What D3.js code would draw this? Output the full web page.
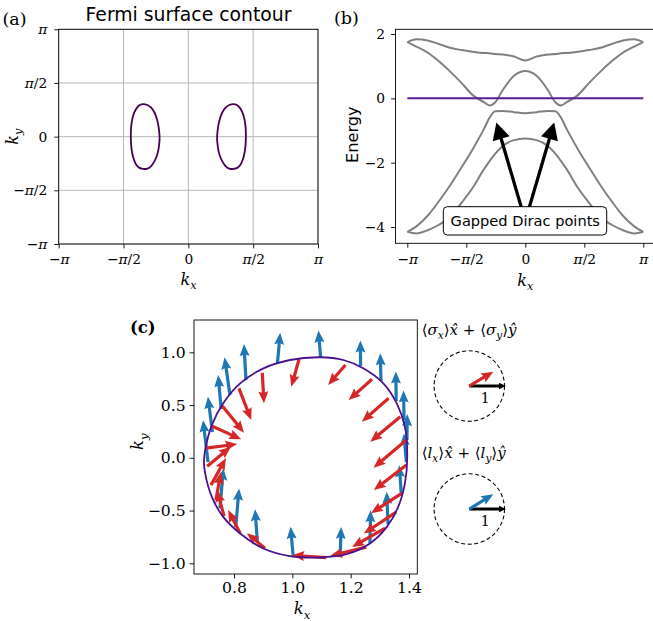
<!doctype html>
<html>
<head>
<script src="https://d3js.org/d3.v7.min.js"></script>
<style>
  body { margin: 0; padding: 0; background: #fff; }
</style>
</head>
<body>
<svg id="fig" width="653" height="621"></svg>
<script>
// ---- data ----
var piTicks = [-Math.PI, -Math.PI / 2, 0, Math.PI / 2, Math.PI];
var piTickLabels = ["−π", "−π/2", "0", "π/2", "π"];

// Fermi pocket (right one, kx > 0); panel (a) shows it and its mirror image
var contourKx = [1.095, 0.992, 0.901, 0.821, 0.763, 0.724, 0.701, 0.697, 0.701, 0.724, 0.763, 0.821, 0.901,
                 0.992, 1.095, 1.186, 1.266, 1.324, 1.363, 1.386, 1.394, 1.386, 1.358, 1.312, 1.243, 1.175];
var contourKy = [0.953, 0.927, 0.848, 0.706, 0.516, 0.310, 0.073, -0.040, -0.148, -0.370, -0.560, -0.717, -0.860,
                 -0.933, -0.945, -0.914, -0.812, -0.655, -0.465, -0.243, 0.009, 0.294, 0.516, 0.706, 0.848, 0.927];

// bands along ky = 0
var bandK = [-3.14, -2.9, -2.6, -2.3, -2.0, -1.7, -1.4, -1.1, -0.95, -0.8, -0.6, -0.3, 0,
             0.3, 0.6, 0.8, 0.95, 1.1, 1.4, 1.7, 2.0, 2.3, 2.6, 2.9, 3.14];
var band1 = [1.75, 1.84, 1.80, 1.69, 1.57, 1.50, 1.45, 1.41, 1.40, 1.38, 1.36, 1.30, 1.18,
             1.30, 1.36, 1.38, 1.40, 1.41, 1.45, 1.50, 1.57, 1.69, 1.80, 1.84, 1.75];
var band2 = [1.75, 1.61, 1.42, 1.15, 0.83, 0.48, 0.10, -0.12, -0.22, -0.12, 0.26, 0.70, 0.85,
             0.70, 0.26, -0.12, -0.22, -0.12, 0.10, 0.48, 0.83, 1.15, 1.42, 1.61, 1.75];
var band3 = [-4.15, -3.98, -3.65, -3.20, -2.70, -2.15, -1.58, -0.95, -0.60, -0.40, -0.39, -0.43, -0.46,
             -0.43, -0.39, -0.40, -0.60, -0.95, -1.58, -2.15, -2.70, -3.20, -3.65, -3.98, -4.15];
var band4 = [-4.15, -4.20, -4.10, -3.93, -3.68, -3.25, -2.78, -2.20, -1.95, -1.72, -1.48, -1.30, -1.25,
             -1.30, -1.48, -1.72, -1.95, -2.20, -2.78, -3.25, -3.68, -3.93, -4.10, -4.20, -4.15];
var bands = [band1, band2, band3, band4];
var fermiLevel = 0;
var energyTicks = [-4, -2, 0, 2];
var energyTickLabels = ["−4", "−2", "0", "2"];
var diracK = [-0.77, 0.77];
var diracE = [-0.75, -0.75];
var annotText = "Gapped Dirac points";
var annotK = 0, annotE = -3.81;

// panel (c)
var cxTicks = [0.8, 1.0, 1.2, 1.4];
var cxTickLabels = ["0.8", "1.0", "1.2", "1.4"];
var cyTicks = [-1.0, -0.5, 0.0, 0.5, 1.0];
var cyTickLabels = ["−1.0", "−0.5", "0.0", "0.5", "1.0"];

// orbital <l> arrows (blue): base point and vector
var orbKx = [0.711, 0.726, 0.756, 0.786, 0.841, 0.949, 1.097, 1.234, 1.304, 1.356, 1.383, 1.393, 1.391,
             1.374, 1.328, 1.266, 1.164, 1.003, 0.880, 0.806, 0.752];
var orbKy = [-0.041, 0.244, 0.462, 0.595, 0.737, 0.894, 0.955, 0.870, 0.728, 0.538, 0.358, 0.168, -0.041,
             -0.354, -0.629, -0.809, -0.923, -0.937, -0.797, -0.657, -0.480];
var orbU = [-0.136, -0.123, -0.082, -0.144, -0.054, 0.074, -0.060, -0.005, -0.019, -0.008, -0.014, 0.008, -0.068,
            -0.060, -0.035, 0.019, 0.027, -0.071, -0.063, 0.090, 0.090];
var orbV = [1.144, 0.962, 0.926, 1.027, 0.981, 0.839, 0.722, 0.695, 0.755, 0.804, 0.804, 0.708, 0.782,
            0.817, 0.880, 0.899, 0.771, 0.812, 0.891, 1.054, 1.090];

// spin <sigma> arrows (red)
var spinKx = [1.023, 0.897, 0.817, 0.760, 0.724, 0.704, 0.708, 0.721, 0.738, 0.766, 0.821, 0.906, 1.116,
              1.253, 1.318, 1.356, 1.376, 1.391, 1.391, 1.370, 1.330, 1.273, 1.182];
var spinKy = [0.934, 0.806, 0.658, 0.491, 0.301, 0.092, -0.079, -0.259, -0.401, -0.553, -0.714, -0.857, -0.947,
              -0.847, -0.667, -0.515, -0.335, -0.069, 0.168, 0.389, 0.564, 0.744, 0.880];
var spinU = [-0.210, 0.046, 0.335, 0.591, 0.801, 0.853, 0.646, 0.409, 0.136, -0.191, -0.327, -0.490, -0.926,
             -0.973, -0.899, -0.880, -0.845, -0.886, -0.894, -0.817, -0.728, -0.635, -0.471];
var spinV = [-0.747, -0.834, -0.864, -0.728, -0.362, 0.109, 0.526, 0.736, 0.763, 0.708, 0.627, 0.409, 0.068,
             -0.237, -0.510, -0.580, -0.545, -0.681, -0.755, -0.681, -0.638, -0.564, -0.545];

var keySpin = [0.654, 0.390];
var keyOrb = [0.654, 0.401];
var keyUnit = 1;

// ---- helpers ----
var SERIF = "'DejaVu Serif', serif";
var SANS = "'DejaVu Sans', sans-serif";
var svg = d3.select("#fig");
svg.append("rect").attr("width", 653).attr("height", 621).attr("fill", "#fff");

function piText(sel, label) {
  sel.text(null);
  label.split(/(π)/).forEach(function (p) {
    if (!p) return;
    sel.append("tspan").style("font-style", p === "π" ? "italic" : "normal").text(p);
  });
}

function kLabel(g, x, y, sub, size, rotate) {
  var t = g.append("text").style("font-family", SERIF).attr("font-size", size)
    .attr("text-anchor", "middle")
    .attr("transform", "translate(" + x + "," + y + ")" + (rotate ? " rotate(-90)" : ""));
  t.append("tspan").style("font-style", "italic").text("k");
  t.append("tspan").style("font-style", "italic").attr("font-size", size * 0.7)
    .attr("dy", size * 0.28).text(sub);
  return t;
}

function styleAxis(g, size) {
  g.select(".domain").remove();
  g.selectAll(".tick line").attr("stroke", "#000").attr("stroke-width", 0.9);
  g.selectAll(".tick text").style("font-family", SERIF).attr("font-size", size).attr("fill", "#000");
}

function arrowPath(x0, y0, dx, dy, w, hl, ha, hw) {
  var L = Math.hypot(dx, dy);
  if (L === 0) return "";
  var ux = dx / L, uy = dy / L, nx = -uy, ny = ux;
  if (L < hl) { var s = L / hl; hl *= s; ha *= s; hw *= s; }
  var pts = [[0, -w / 2], [L - ha, -w / 2], [L - hl, -hw], [L, 0], [L - hl, hw], [L - ha, w / 2], [0, w / 2]];
  return "M" + pts.map(function (p) {
    return (x0 + p[0] * ux + p[1] * nx).toFixed(2) + "," + (y0 + p[0] * uy + p[1] * ny).toFixed(2);
  }).join("L") + "Z";
}

// ---- panel (a) ----
var xA = d3.scaleLinear().domain([-Math.PI, Math.PI]).range([58.7, 318]);
var yA = d3.scaleLinear().domain([-Math.PI, Math.PI]).range([244, 29.3]);
var gA = svg.append("g");

gA.selectAll("line.gx").data(piTicks).enter().append("line")
  .attr("x1", function (d) { return xA(d); }).attr("x2", function (d) { return xA(d); })
  .attr("y1", yA(-Math.PI)).attr("y2", yA(Math.PI))
  .attr("stroke", "#b0b0b0").attr("stroke-width", 0.9);
gA.selectAll("line.gy").data(piTicks).enter().append("line")
  .attr("y1", function (d) { return yA(d); }).attr("y2", function (d) { return yA(d); })
  .attr("x1", xA(-Math.PI)).attr("x2", xA(Math.PI))
  .attr("stroke", "#b0b0b0").attr("stroke-width", 0.9);

var pocket = d3.line().curve(d3.curveCatmullRomClosed);
gA.append("path")
  .attr("d", pocket(contourKx.map(function (k, i) { return [xA(k), yA(contourKy[i])]; })))
  .attr("fill", "none").attr("stroke", "#440154").attr("stroke-width", 1.8);
gA.append("path")
  .attr("d", pocket(contourKx.map(function (k, i) { return [xA(-k), yA(contourKy[i])]; })))
  .attr("fill", "none").attr("stroke", "#440154").attr("stroke-width", 1.8);

gA.append("rect").attr("x", 58.7).attr("y", 29.3).attr("width", 318 - 58.7).attr("height", 244 - 29.3)
  .attr("fill", "none").attr("stroke", "#000").attr("stroke-width", 0.9);

var axA = gA.append("g").attr("transform", "translate(0,244)")
  .call(d3.axisBottom(xA).tickValues(piTicks).tickSize(4.4).tickPadding(6));
styleAxis(axA, 13.8);
axA.selectAll(".tick text").each(function (d, i) { piText(d3.select(this), piTickLabels[i]); });
var ayA = gA.append("g").attr("transform", "translate(58.7,0)")
  .call(d3.axisLeft(yA).tickValues(piTicks).tickSize(4.4).tickPadding(7));
styleAxis(ayA, 13.8);
ayA.selectAll(".tick text").each(function (d, i) { piText(d3.select(this), piTickLabels[i]); });

kLabel(gA, 188.5, 285, "x", 16, false);
kLabel(gA, 18, 136.7, "y", 16, true);
gA.append("text").style("font-family", SANS).attr("font-size", 18.8).attr("text-anchor", "middle")
  .attr("x", 188.5).attr("y", 21).text("Fermi surface contour");
gA.append("text").style("font-family", SERIF).attr("font-size", 17.5).attr("x", 2.5).attr("y", 25).text("(a)");

// ---- panel (b) ----
var xB = d3.scaleLinear().domain([-Math.PI, Math.PI]).range([407.3, 643.3]);
var yB = d3.scaleLinear().domain([-4, 2]).range([227, 34]);
var gB = svg.append("g");
var bandLine = d3.line().curve(d3.curveMonotoneX)
  .x(function (d) { return xB(d[0]); }).y(function (d) { return yB(d[1]); });

bands.forEach(function (b) {
  gB.append("path").attr("d", bandLine(bandK.map(function (k, i) { return [k, b[i]]; })))
    .attr("fill", "none").attr("stroke", "#808080").attr("stroke-width", 2);
});
gB.append("line").attr("x1", xB(-Math.PI)).attr("x2", xB(Math.PI))
  .attr("y1", yB(fermiLevel)).attr("y2", yB(fermiLevel))
  .attr("stroke", "#5a1e9a").attr("stroke-width", 2);

gB.append("rect").attr("x", 395.5).attr("y", 29.3).attr("width", 264).attr("height", 243.3 - 29.3)
  .attr("fill", "none").attr("stroke", "#000").attr("stroke-width", 0.9);

var axB = gB.append("g").attr("transform", "translate(0,243.3)")
  .call(d3.axisBottom(xB).tickValues(piTicks).tickSize(4.4).tickPadding(7));
styleAxis(axB, 13.8);
axB.selectAll(".tick text").each(function (d, i) { piText(d3.select(this), piTickLabels[i]); });
var ayB = gB.append("g").attr("transform", "translate(395.5,0)")
  .call(d3.axisLeft(yB).tickValues(energyTicks).tickSize(4.4).tickPadding(6)
    .tickFormat(function (d, i) { return energyTickLabels[i]; }));
styleAxis(ayB, 13.8);

kLabel(gB, 525.3, 286, "x", 16, false);
gB.append("text").style("font-family", SANS).attr("font-size", 16.2).attr("text-anchor", "middle")
  .attr("transform", "translate(358,134.7) rotate(-90)").text("Energy");
gB.append("text").style("font-family", SERIF).attr("font-size", 17.5).attr("x", 334).attr("y", 23.5).text("(b)");

// annotation arrows then box
var ax0 = xB(annotK), ay0 = yB(annotE);
diracK.forEach(function (k, i) {
  var tx = xB(k), ty = yB(diracE[i]);
  gB.append("path").attr("d", arrowPath(ax0, ay0, tx - ax0, ty - ay0, 3.3, 17, 17, 8.8))
    .attr("fill", "#000");
});
gB.append("rect").attr("x", 443.3).attr("y", 206.7).attr("width", 163.4).attr("height", 28.3)
  .attr("rx", 4).attr("fill", "#fff").attr("stroke", "#000").attr("stroke-width", 1);
gB.append("text").style("font-family", SANS).attr("font-size", 14.6).attr("text-anchor", "middle")
  .attr("x", ax0).attr("y", 226).text(annotText);

// ---- panel (c) ----
var xC = d3.scaleLinear().domain([0.8, 1.4]).range([234, 409]);
var yC = d3.scaleLinear().domain([-1, 1]).range([563.3, 352.3]);
var unitPx = 36.7;
var gC = svg.append("g");

orbKx.forEach(function (k, i) {
  gC.append("path").attr("d", arrowPath(xC(k), yC(orbKy[i]), orbU[i] * unitPx, -orbV[i] * unitPx, 3.2, 12, 10.8, 5))
    .attr("fill", "#1f77b4");
});
spinKx.forEach(function (k, i) {
  gC.append("path").attr("d", arrowPath(xC(k), yC(spinKy[i]), spinU[i] * unitPx, -spinV[i] * unitPx, 3.2, 12, 10.8, 5))
    .attr("fill", "#d62728");
});
gC.append("path")
  .attr("d", pocket(contourKx.map(function (k, i) { return [xC(k), yC(contourKy[i])]; })))
  .attr("fill", "none").attr("stroke", "#4b1190").attr("stroke-width", 1.8);

gC.append("rect").attr("x", 194).attr("y", 320).attr("width", 417.3 - 194).attr("height", 574 - 320)
  .attr("fill", "none").attr("stroke", "#000").attr("stroke-width", 0.9);
var axC = gC.append("g").attr("transform", "translate(0,574)")
  .call(d3.axisBottom(xC).tickValues(cxTicks).tickSize(4.4).tickPadding(4)
    .tickFormat(function (d, i) { return cxTickLabels[i]; }));
styleAxis(axC, 15.6);
var ayC = gC.append("g").attr("transform", "translate(194,0)")
  .call(d3.axisLeft(yC).tickValues(cyTicks).tickSize(4.4).tickPadding(4)
    .tickFormat(function (d, i) { return cyTickLabels[i]; }));
styleAxis(ayC, 15.6);

kLabel(gC, 302, 614, "x", 16.5, false);
kLabel(gC, 143, 441.7, "y", 16.5, true);
gC.append("text").style("font-family", SERIF).attr("font-size", 16.5).attr("font-weight", "bold")
  .attr("x", 130).attr("y", 333).text("(c)");

// ---- keys ----
function keyTitle(x, y, sym) {
  var t = gC.append("text").style("font-family", SERIF).attr("font-size", 15).attr("x", x).attr("y", y);
  var parts = [["⟨", 0, 0], [sym, 1, 0], ["x", 1, 1], ["⟩", 0, 0], ["x\u0302", 1, 0], [" + ", 0, 0],
               ["⟨", 0, 0], [sym, 1, 0], ["y", 1, 1], ["⟩", 0, 0], ["y\u0302", 1, 0]];
  parts.forEach(function (p) {
    t.append("tspan").style("font-style", p[1] ? "italic" : "normal")
      .attr("font-size", p[2] ? 10.5 : 15).attr("y", p[2] ? y + 4 : y).text(p[0]);
  });
}
function keyDial(cx, cy, vec, color) {
  gC.append("circle").attr("cx", cx).attr("cy", cy).attr("r", keyUnit * unitPx - 1.5)
    .attr("fill", "none").attr("stroke", "#000").attr("stroke-width", 1.1).attr("stroke-dasharray", "4,2.6");
  gC.append("path").attr("d", arrowPath(cx, cy, keyUnit * unitPx, 0, 2.8, 7, 7, 3.2)).attr("fill", "#000");
  gC.append("path").attr("d", arrowPath(cx, cy, vec[0] * unitPx, -vec[1] * unitPx, 3.2, 12, 10.8, 5))
    .attr("fill", color);
  gC.append("text").style("font-family", SERIF).attr("font-size", 14).attr("text-anchor", "middle")
    .attr("x", cx + 16).attr("y", cy + 17).text("1");
}
keyTitle(421.7, 335, "σ");
keyDial(469.3, 386, keySpin, "#d62728");
keyTitle(421.7, 458.3, "l");
keyDial(469.3, 509, keyOrb, "#1f77b4");
</script>
</body>
</html>
